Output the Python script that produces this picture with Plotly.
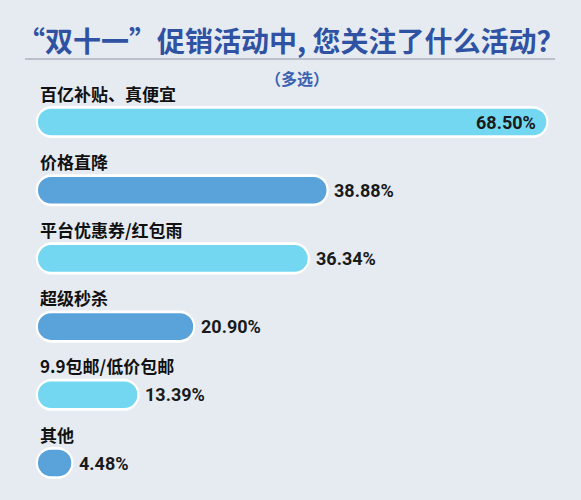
import plotly.graph_objects as go

# --- datos ---
categorias = ["百亿补贴、真便宜", "价格直降", "平台优惠券/红包雨",
              "超级秒杀", "9.9包邮/低价包邮", "其他"]
valores = [68.50, 38.88, 36.34, 20.90, 13.39, 4.48]
colores = ["#74d7f1", "#5aa2da", "#74d7f1", "#5aa2da", "#74d7f1", "#5aa2da"]

titulo = "“双十一”促销活动中, 您关注了什么活动？"
subtitulo = "（多选）"

FONT_CJK = "Noto Sans CJK SC"
FONT_NUM = "Liberation Sans Narrow, Roboto, sans-serif"
filas = list(range(len(categorias)))
PAD = 0.3  # borde blanco en los extremos (unidades de %)

fig = go.Figure()

# contorno blanco
fig.add_trace(go.Bar(
    y=filas, x=[v + 2 * PAD for v in valores], base=[-PAD] * len(valores),
    orientation="h", width=0.47, marker=dict(color="white", cornerradius="50%", line=dict(width=0)),
    hoverinfo="skip", showlegend=False))

fig.add_trace(go.Bar(
    y=filas, x=valores, base=[0] * len(valores),
    orientation="h", width=0.39, marker=dict(color=colores, cornerradius="50%", line=dict(width=0)),
    hovertemplate="%{x:.2f}%<extra></extra>", showlegend=False))

# etiquetas de categoría y valores
for i, (cat, v) in enumerate(zip(categorias, valores)):
    fig.add_annotation(x=0, y=i, xref="x", yref="y", text=f"<b>{cat}</b>",
                       showarrow=False, xanchor="left", yanchor="middle", yshift=29, xshift=0,
                       font=dict(family=FONT_CJK, size=17, color="#111111"))
    dentro = v > 50
    fig.add_annotation(x=v, y=i, xref="x", yref="y", text=f"<b>{v:.2f}%</b>",
                       showarrow=False, xanchor="right" if dentro else "left", yanchor="middle",
                       xshift=-8 if dentro else 6, yshift=0,
                       font=dict(family=FONT_NUM, size=18, color="#1a1a1a"))

# título
fig.add_annotation(x=0.5, y=1 - 40 / 500, xref="paper", yref="paper", text=f"<b>{titulo}</b>",
                   showarrow=False, xanchor="center", yanchor="middle",
                   font=dict(family=FONT_CJK, size=28, color="#2f52a3"))
fig.add_annotation(x=0.512, y=1 - 78 / 500, xref="paper", yref="paper", text=f"<b>{subtitulo}</b>",
                   showarrow=False, xanchor="center", yanchor="middle",
                   font=dict(family=FONT_CJK, size=16, color="#3a62b0"))
fig.add_shape(type="line", xref="paper", yref="paper", x0=25 / 581, x1=555 / 581,
              y0=1 - 59 / 500, y1=1 - 59 / 500, line=dict(color="#8f98a6", width=1.2))

px_por_pct = 7.42
x0_px = 38
fila_px0, fila_paso = 122, 68.2
fig.update_layout(
    width=581, height=500,
    margin=dict(l=0, r=0, t=0, b=0),
    paper_bgcolor="#e6ebf2", plot_bgcolor="rgba(0,0,0,0)",
    barmode="overlay",
    xaxis=dict(range=[-x0_px / px_por_pct, (581 - x0_px) / px_por_pct], visible=False, fixedrange=True),
    yaxis=dict(range=[(500 - fila_px0) / fila_paso, -fila_px0 / fila_paso], visible=False, fixedrange=True),
)

fig.write_html("out.html", config={"displayModeBar": False},
               post_script="document.body.style.margin='0';")
